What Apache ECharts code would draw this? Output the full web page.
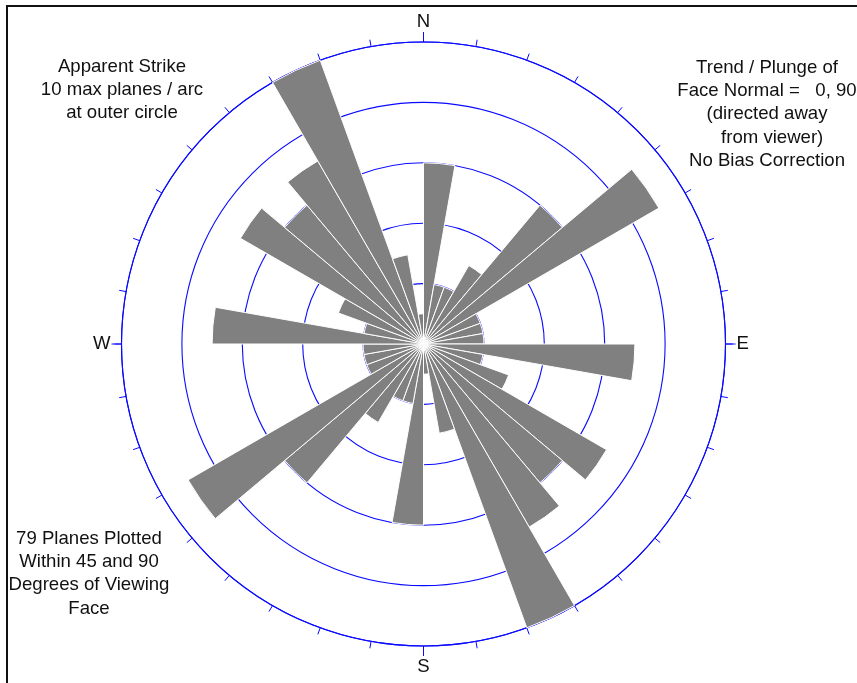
<!DOCTYPE html>
<html>
<head>
<meta charset="utf-8">
<script src="https://cdn.jsdelivr.net/npm/echarts@6/dist/echarts.min.js"></script>
<style>
html,body{margin:0;padding:0;background:#fff;}
#chart{width:857px;height:683px;}
</style>
</head>
<body>
<div id="chart"></div>
<script>
// 10-degree strike bins, clockwise from North
const binLabels = ['0-10','10-20','20-30','30-40','40-50','50-60','60-70','70-80','80-90',
  '90-100','100-110','110-120','120-130','130-140','140-150','150-160','160-170','170-180',
  '180-190','190-200','200-210','210-220','220-230','230-240','240-250','250-260','260-270',
  '270-280','280-290','290-300','300-310','310-320','320-330','330-340','340-350','350-360'];
// planes per arc
const planeCounts = [6,2,2,3,6,9,2,2,2,7,2,3,7,6,7,10,3,1,
                     6,2,2,3,6,9,2,2,2,7,2,3,7,6,7,10,3,1];
const radiusMax = 10;
const ringInterval = 2;
const cardinalDegrees = [0, 90, 180, 270];
const cardinalNames = ['N', 'E', 'S', 'W'];

const leftTopText = ['Apparent Strike', '10 max planes / arc', 'at outer circle'];
const rightTopText = ['Trend / Plunge of', 'Face Normal =   0, 90', '(directed away', '  from viewer)', 'No Bias Correction'];
const leftBottomText = ['79 Planes Plotted', 'Within 45 and 90', 'Degrees of Viewing', 'Face'];

const BLUE = '#0a0aff';
const FONT = '"Liberation Sans", Arial, sans-serif';
const center = [423.5, 344];
const R = 302;

const chart = echarts.init(document.getElementById('chart'), null, {renderer: 'canvas'});

function textBlock(lines, x, y) {
  return {
    type: 'text', x: x, y: y, silent: true,
    style: {
      text: lines.join('\n'), fill: '#111', font: '18.6px ' + FONT,
      align: 'center', verticalAlign: 'top', lineHeight: 23.3
    }
  };
}

chart.setOption({
  animation: false,
  backgroundColor: '#fff',
  polar: [
    {center: center, radius: R},
    {center: center, radius: R}
  ],
  angleAxis: [
    {
      polarIndex: 0, type: 'category', data: binLabels,
      startAngle: 90, clockwise: true, boundaryGap: true,
      axisLine: {show: true, lineStyle: {color: BLUE, width: 1.1}},
      axisTick: {show: true, interval: 0, length: 7, lineStyle: {color: BLUE, width: 1}},
      axisLabel: {show: false, interval: 0},
      splitLine: {show: false}, splitArea: {show: false}
    },
    {
      polarIndex: 1, type: 'value', min: 0, max: 360, interval: 90,
      startAngle: 90, clockwise: true,
      axisLine: {show: false},
      axisTick: {show: true, length: 10, lineStyle: {color: BLUE, width: 1}},
      axisLabel: {
        show: true, margin: 11, fontSize: 18.6, fontFamily: FONT, color: '#111',
        formatter: function (v) {
          const i = cardinalDegrees.indexOf(v);
          return i >= 0 ? cardinalNames[i] : '';
        }
      },
      splitLine: {show: false}, splitArea: {show: false}
    }
  ],
  radiusAxis: [
    {
      polarIndex: 0, type: 'value', min: 0, max: radiusMax, interval: ringInterval,
      axisLine: {show: false}, axisTick: {show: false}, axisLabel: {show: false},
      splitLine: {show: true, lineStyle: {color: BLUE, width: 1.1}}
    },
    {
      polarIndex: 1, type: 'value', min: 0, max: radiusMax, show: false
    }
  ],
  series: [
    {
      type: 'bar', coordinateSystem: 'polar', polarIndex: 0,
      data: planeCounts, barCategoryGap: '0%', barGap: '0%',
      silent: true,
      itemStyle: {color: '#808080', borderColor: '#ffffff', borderWidth: 1}
    }
  ],
  graphic: [
    {type: 'rect', silent: true, shape: {x: 7, y: 6, width: 900, height: 800},
     style: {fill: 'none', stroke: '#111', lineWidth: 2}},
    textBlock(leftTopText, 122, 55),
    textBlock(rightTopText, 767, 56),
    textBlock(leftBottomText, 89, 527)
  ]
});
</script>
</body>
</html>
